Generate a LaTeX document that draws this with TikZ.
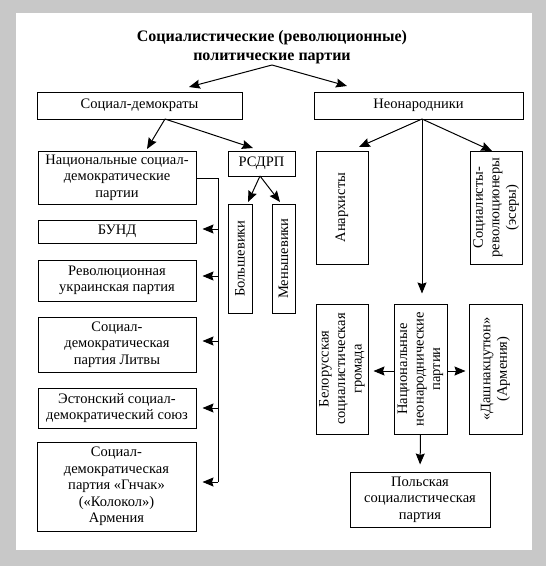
\documentclass[tikz,border=0pt]{standalone}
\usepackage{fontspec}
\setmainfont{Liberation Serif}
\usetikzlibrary{arrows.meta}
\definecolor{bggray}{RGB}{200,200,200}
\tikzset{
  box/.style={draw, line width=1pt, inner sep=1pt, align=center, font=\fontsize{14.5}{16.5}\selectfont},
  vtext/.style={rotate=90, align=center, inner sep=0pt, font=\fontsize{14.5}{16.5}\selectfont},
  arr/.style={line width=1pt, -{Stealth[length=11pt,width=9pt,inset=1.5pt]}},
  ln/.style={line width=1pt}
}
\begin{document}
\begin{tikzpicture}[x=1pt,y=-1pt]
\useasboundingbox (0,0) rectangle (546,566);
\fill[bggray] (0,0) rectangle (546,566);
\fill[white] (16,13) rectangle (532,550);

% title
\node[align=center, font=\fontsize{16}{19.5}\selectfont\bfseries, inner sep=0pt] (title) at (272,47)
  {Социалистические (революционные)\\политические партии};
\coordinate (ts) at (272,65);

% level 1
\node[box, minimum width=205, minimum height=27] (sd) at (139.5,105.5) {Социал-демократы};
\node[box, minimum width=209, minimum height=27] (nn) at (418.5,105.5) {Неонародники};

\draw[arr] (ts) -- (189,87);
\draw[arr] (ts) -- (347,86);

% left branch
\node[box, minimum width=158, minimum height=53] (nat) at (117,177.5) {Национальные социал-\\демократические\\партии};
\node[box, minimum width=67, minimum height=25] (rsdrp) at (261.5,163.5) {РСДРП};
\coordinate (sds) at (165,119);
\draw[arr] (sds) -- (147,149);
\draw[arr] (sds) -- (253,148);

\node[box, minimum width=24, minimum height=109] (bol) at (240,258.5) {};
\node[vtext] at (bol) {Большевики};
\node[box, minimum width=23, minimum height=109] (men) at (283.5,258.5) {};
\node[vtext] at (men) {Меньшевики};
\coordinate (rs) at (260,176);
\draw[arr] (rs) -- (248,202);
\draw[arr] (rs) -- (280,202);

\node[box, minimum width=158, minimum height=23] (bund) at (117,231.5) {БУНД};
\node[box, minimum width=158, minimum height=41] (ukr) at (117,280.5) {Революционная\\украинская партия};
\node[box, minimum width=158, minimum height=55] (lit) at (117,344.5) {Социал-\\демократическая\\партия Литвы};
\node[box, minimum width=158, minimum height=40] (est) at (117,408) {Эстонский социал-\\демократический союз};
\node[box, minimum width=159, minimum height=89] (gn) at (116.5,486.5) {Социал-\\демократическая\\партия «Гнчак»\\(«Колокол»)\\Армения};

\coordinate (c0) at (218,178);
\coordinate (c1) at (218,229);
\coordinate (c2) at (218,276);
\coordinate (c3) at (218,341);
\coordinate (c4) at (218,408);
\coordinate (c5) at (218,482);
\draw[ln] (nat.east |- c0) -- (c0) -- (c5);
\draw[arr, shorten >=6pt] (c1) -- (c1 -| bund.east);
\draw[arr, shorten >=6pt] (c2) -- (c2 -| ukr.east);
\draw[arr, shorten >=6pt] (c3) -- (c3 -| lit.east);
\draw[arr, shorten >=6pt] (c4) -- (c4 -| est.east);
\draw[arr, shorten >=6pt] (c5) -- (c5 -| gn.east);

% right branch
\node[box, minimum width=52, minimum height=113] (anar) at (342,207.5) {};
\node[vtext] at (anar) {Анархисты};
\node[box, minimum width=52, minimum height=113] (sr) at (496,207.5) {};
\node[vtext] at (sr) {Социалисты-\\революционеры\\(эсеры)};

\node[box, minimum width=52, minimum height=130] (bel) at (342,369) {};
\node[vtext] at (bel) {Белорусская\\социалистическая\\громада};
\node[box, minimum width=53, minimum height=130] (nnp) at (420.5,369) {};
\node[vtext] at (nnp) {Национальные\\неонароднические\\партии};
\node[box, minimum width=53, minimum height=130] (dash) at (495.5,369) {};
\node[vtext] at (dash) {«Дашнакцутюн»\\(Армения)};
\node[box, minimum width=140, minimum height=55] (pol) at (420,499.5) {Польская\\социалистическая\\партия};

\coordinate (nns) at (422,119);
\draw[arr] (nns) -- (359,147);
\draw[arr] (nns) -- (492,151);
\draw[arr, shorten >=10pt] (nns) -- (nns |- nnp.north);

\coordinate (m1) at (420.5,371);
\draw[arr, shorten >=5pt] (m1 -| nnp.west) -- (m1 -| bel.east);
\draw[arr, shorten >=3pt] (m1 -| nnp.east) -- (m1 -| dash.west);
\draw[arr, shorten >=7pt] (nnp.south) -- (pol.north);
\end{tikzpicture}
\end{document}
